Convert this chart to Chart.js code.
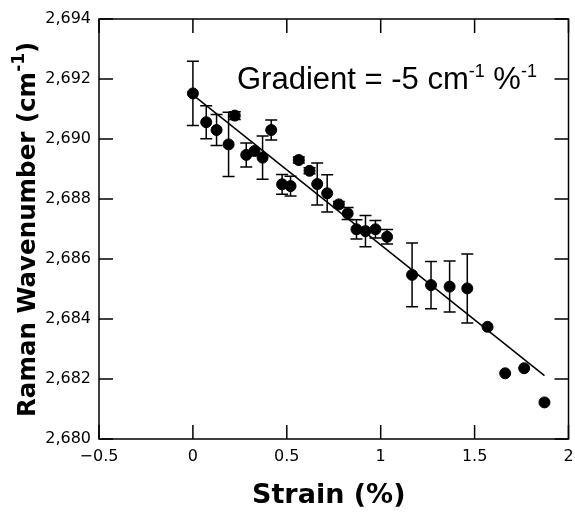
<!DOCTYPE html>
<html>
<head>
<meta charset="utf-8">
<script src="https://cdn.jsdelivr.net/npm/chart.js@4/dist/chart.umd.min.js"></script>
<style>
  html, body { margin: 0; padding: 0; background: #fff; }
  #wrap { width: 575px; height: 513px; }
</style>
</head>
<body>
<div id="wrap"><canvas id="ramanChart" width="575" height="513"></canvas></div>
<script>
// Strain (%) vs Raman wavenumber
const strain = [0, 0.071, 0.126, 0.19, 0.223, 0.284, 0.328, 0.371, 0.417, 0.475,
    0.52, 0.564, 0.621, 0.662, 0.715, 0.777, 0.824, 0.871, 0.919, 0.972,
    1.034, 1.167, 1.268, 1.367, 1.461, 1.569, 1.663, 1.764, 1.872];
const wavenumber = [2691.52, 2690.56, 2690.3, 2689.82, 2690.78, 2689.47, 2689.6, 2689.38, 2690.3, 2688.49,
    2688.43, 2689.3, 2688.94, 2688.5, 2688.19, 2687.82, 2687.52, 2686.99, 2686.93, 2686.99,
    2686.74, 2685.47, 2685.13, 2685.08, 2685.02, 2683.74, 2682.19, 2682.36, 2681.22];
// half length of error bars (cm-1)
const errors = [1.07, 0.55, 0.52, 1.07, 0.13, 0.4, 0, 0.72, 0.33, 0.33,
    0.33, 0.1, 0.1, 0.7, 0.62, 0.1, 0.2, 0.32, 0.52, 0.29,
    0.24, 1.06, 0.79, 0.85, 1.15, 0, 0, 0, 0];
// linear fit end points
const fitX = [0, 1.872];
const fitY = [2691.47, 2682.11];

const xTicks = [-0.5, 0, 0.5, 1, 1.5, 2];
const yTicks = [2680, 2682, 2684, 2686, 2688, 2690, 2692, 2694];

const points = strain.map((x, i) => ({ x: x, y: wavenumber[i] }));
const fitLine = fitX.map((x, i) => ({ x: x, y: fitY[i] }));

const sans = '"DejaVu Sans", Verdana, sans-serif';

// draws pieces of text one after another, [text, font, raise]
function drawRun(ctx, parts, x, y) {
    parts.forEach(p => {
        ctx.font = p[1];
        ctx.fillText(p[0], x, y - p[2]);
        x += ctx.measureText(p[0]).width;
    });
}

// error bars drawn under the points
const errorBars = {
    id: 'errorBars',
    beforeDatasetsDraw(chart) {
        const ctx = chart.ctx;
        const xs = chart.scales.x, ys = chart.scales.y;
        ctx.save();
        ctx.strokeStyle = '#000';
        ctx.lineWidth = 1.5;
        strain.forEach((x, i) => {
            if (!errors[i]) return;
            const px = xs.getPixelForValue(x);
            const top = ys.getPixelForValue(wavenumber[i] + errors[i]);
            const bot = ys.getPixelForValue(wavenumber[i] - errors[i]);
            ctx.beginPath();
            ctx.moveTo(px, top); ctx.lineTo(px, bot);
            ctx.moveTo(px - 6, top); ctx.lineTo(px + 6, top);
            ctx.moveTo(px - 6, bot); ctx.lineTo(px + 6, bot);
            ctx.stroke();
        });
        ctx.restore();
    }
};

// box frame with inward ticks, axis titles and the gradient note
const frame = {
    id: 'frame',
    afterDraw(chart) {
        const ctx = chart.ctx;
        const a = chart.chartArea;
        const xs = chart.scales.x, ys = chart.scales.y;
        const len = 14;
        ctx.save();
        ctx.strokeStyle = '#000';
        ctx.lineWidth = 1.5;
        ctx.strokeRect(a.left, a.top, a.right - a.left, a.bottom - a.top);
        ctx.beginPath();
        xTicks.forEach(v => {
            const px = xs.getPixelForValue(v);
            ctx.moveTo(px, a.bottom); ctx.lineTo(px, a.bottom - len);
            ctx.moveTo(px, a.top); ctx.lineTo(px, a.top + len);
        });
        yTicks.forEach(v => {
            const py = ys.getPixelForValue(v);
            ctx.moveTo(a.left, py); ctx.lineTo(a.left + len, py);
            ctx.moveTo(a.right, py); ctx.lineTo(a.right - len, py);
        });
        ctx.stroke();

        ctx.fillStyle = '#000';
        ctx.textBaseline = 'alphabetic';
        ctx.textAlign = 'left';

        // x title
        ctx.font = 'bold 27px ' + sans;
        ctx.fillText('Strain (%)', 252, 503);

        // y title, rotated
        ctx.save();
        ctx.translate(35, 417);
        ctx.rotate(-Math.PI / 2);
        drawRun(ctx, [
            ['Raman Wavenumber (cm', 'bold 24.5px ' + sans, 0],
            ['-1', 'bold 17px ' + sans, 11],
            [')', 'bold 24.5px ' + sans, 0]
        ], 0, 0);
        ctx.restore();

        // "Gradient = -5 cm-1 %-1"
        const big = '31px "Liberation Sans", Arial, sans-serif';
        const small = '18px "Liberation Sans", Arial, sans-serif';
        drawRun(ctx, [
            ['Gradient = -5 cm', big, 0],
            ['-1', small, 12],
            [' %', big, 0],
            ['-1', small, 12]
        ], 237, 89);
        ctx.restore();
    }
};

const ctx = document.getElementById('ramanChart').getContext('2d');
const ramanChart = new Chart(ctx, {
    type: 'scatter',
    data: {
        datasets: [
            {
                label: 'Data',
                data: points,
                backgroundColor: '#000',
                borderColor: '#000',
                pointRadius: 5.5,
                pointHoverRadius: 5.5
            },
            {
                label: 'Fit',
                type: 'line',
                data: fitLine,
                borderColor: '#000',
                borderWidth: 1.5,
                pointRadius: 0,
                fill: false,
                tension: 0
            }
        ]
    },
    options: {
        responsive: false,
        animation: false,
        layout: { padding: { top: 19, right: 6, left: 0, bottom: 0 } },
        plugins: {
            legend: { display: false },
            tooltip: { enabled: false }
        },
        scales: {
            x: {
                type: 'linear',
                min: -0.5,
                max: 2,
                afterFit: s => { s.height = 74; s.paddingLeft = 0; s.paddingRight = 0; },
                afterBuildTicks: s => { s.ticks = xTicks.map(v => ({ value: v })); },
                grid: { display: false, drawTicks: false },
                border: { display: false },
                ticks: {
                    color: '#000',
                    padding: 8,
                    font: { family: sans, size: 16 },
                    callback: v => String(v).replace('-', '\u2212')
                }
            },
            y: {
                type: 'linear',
                min: 2680,
                max: 2694,
                afterFit: s => { s.width = 99; },
                afterBuildTicks: s => { s.ticks = yTicks.map(v => ({ value: v })); },
                grid: { display: false, drawTicks: false },
                border: { display: false },
                ticks: {
                    color: '#000',
                    padding: 8,
                    font: { family: sans, size: 16 },
                    callback: v => v.toLocaleString('en-US')
                }
            }
        }
    },
    plugins: [errorBars, frame]
});
</script>
</body>
</html>
